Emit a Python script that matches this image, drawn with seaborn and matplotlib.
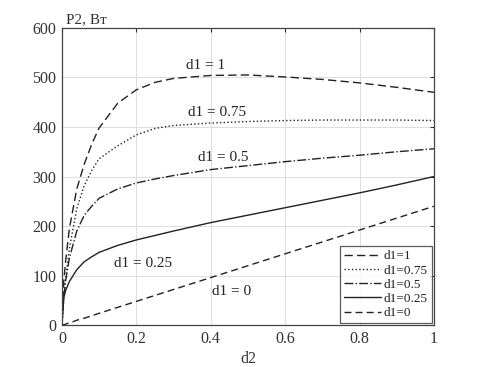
import numpy as np
import pandas as pd
import matplotlib
matplotlib.use('Agg')
import matplotlib.pyplot as plt
import seaborn as sns

# values
d2 = [0, 0.005, 0.01, 0.02, 0.03, 0.04, 0.06, 0.08, 0.1, 0.15, 0.2,
      0.25, 0.3, 0.4, 0.5, 0.6, 0.7, 0.8, 0.9, 1.0]
p_d1_1 = [0, 90, 130, 195, 235, 275, 325, 365, 398, 448, 475,
          490, 498, 504, 505, 501, 496, 489, 480, 470]
p_d1_075 = [0, 60, 95, 155, 195, 235, 282, 312, 336, 362, 384,
            397, 403, 408, 411, 413, 414, 414, 414, 413]
p_d1_05 = [0, 55, 90, 135, 163, 190, 222, 240, 256, 275, 287,
           295, 302, 314, 322, 330, 337, 343, 350, 356]
p_d1_025 = [0, 55, 70, 88, 100, 112, 128, 138, 147, 161, 172,
            181, 190, 207, 222, 237, 252, 267, 283, 300]
p_d1_0 = [0, 1, 2, 5, 7, 10, 14, 19, 24, 36, 48,
          60, 72, 96, 120, 144, 168, 192, 216, 240]

series_names = ['d1=1', 'd1=0.75', 'd1=0.5', 'd1=0.25', 'd1=0']
series_vals = [p_d1_1, p_d1_075, p_d1_05, p_d1_025, p_d1_0]
series_styles = [(0, (6, 3)), ':', '-.', '-', (0, (5, 3))]

curve_labels = ['d1 = 1', 'd1 = 0.75', 'd1 = 0.5', 'd1 = 0.25', 'd1 = 0']
label_x = [0.385, 0.417, 0.433, 0.218, 0.457]
label_y = [525, 430, 339, 125, 67]

xticks = [0, 0.2, 0.4, 0.6, 0.8, 1]
xtick_labels = ['0', '0.2', '0.4', '0.6', '0.8', '1']
yticks = [0, 100, 200, 300, 400, 500, 600]

sns.set_style('whitegrid')
plt.rcParams['font.family'] = ['Liberation Serif', 'DejaVu Serif']

fig = plt.figure(figsize=(4.8, 3.67), dpi=100)
ax = fig.add_axes([0.129, 0.114, 0.775, 0.81])

for name, vals, ls in zip(series_names, series_vals, series_styles):
    df = pd.DataFrame({'d2': d2, 'P2': vals})
    sns.lineplot(data=df, x='d2', y='P2', ax=ax, color='#222222',
                 linewidth=1.0, linestyle=ls, label=name)

for txt, x, y in zip(curve_labels, label_x, label_y):
    ax.text(x, y, txt, ha='center', va='center', fontsize=11, color='#222222')

ax.set_xlim(0, 1)
ax.set_ylim(0, 600)
ax.set_xticks(xticks)
ax.set_xticklabels(xtick_labels)
ax.set_yticks(yticks)
ax.tick_params(axis='both', labelsize=11.5, colors='#333333', direction='in',
               length=3, top=True, right=True, pad=4)
ax.grid(True, color='#dddddd', linewidth=0.7)
for s in ax.spines.values():
    s.set_color('#444444')
    s.set_linewidth(0.9)

ax.set_xlabel('d2', fontsize=11.5, color='#333333', labelpad=3)
ax.set_ylabel('')
ax.text(0.01, 1.005, 'P2, Вт', transform=ax.transAxes, ha='left', va='bottom',
        fontsize=11, color='#333333')

leg = ax.legend(loc='lower right', fontsize=9.5, frameon=True, fancybox=False,
                handlelength=2.8, handletextpad=0.2, borderpad=0.3,
                labelspacing=0.15, borderaxespad=0.15)
leg.get_frame().set_edgecolor('#333333')
leg.get_frame().set_linewidth(0.9)
for t in leg.get_texts():
    t.set_color('#222222')

fig.savefig('out.png', dpi=100)
